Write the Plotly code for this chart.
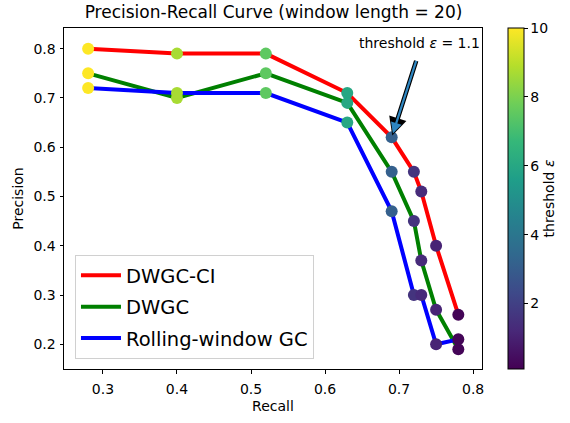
import plotly.graph_objects as go

# ---- data ----
recall = [0.28, 0.40, 0.52, 0.63, 0.69, 0.72, 0.73, 0.75, 0.78]
prec_dwgc_ci = [0.80, 0.79, 0.79, 0.71, 0.62, 0.55, 0.51, 0.40, 0.26]
prec_dwgc = [0.75, 0.70, 0.75, 0.69, 0.55, 0.45, 0.37, 0.27, 0.19]
prec_rolling = [0.72, 0.71, 0.71, 0.65, 0.47, 0.30, 0.30, 0.20, 0.21]
thresholds = [10.0, 8.7, 7.5, 6.0, 3.1, 1.6, 1.3, 1.1, 0.2]

series_names = ["DWGC-CI", "DWGC", "Rolling-window GC"]
series_colors = ["#ff0000", "#008000", "#0000ff"]
series_prec = [prec_dwgc_ci, prec_dwgc, prec_rolling]

FONT = "DejaVu Sans"

fig = go.Figure()
for i, (name, col, prec) in enumerate(zip(series_names, series_colors, series_prec)):
    fig.add_trace(go.Scatter(
        x=recall, y=prec, mode="lines", name=name,
        line=dict(color=col, width=4), legendgroup=f"g{i}",
    ))

all_x = recall * 3
all_y = prec_dwgc_ci + prec_dwgc + prec_rolling
all_c = thresholds * 3
fig.add_trace(go.Scatter(
    x=all_x, y=all_y, mode="markers", showlegend=False,
    marker=dict(
        size=12, color=all_c, colorscale="Viridis", cmin=0.1, cmax=10,
        line=dict(width=0),
        colorbar=dict(
            x=(509 - 64) / 419, xanchor="left", xpad=0,
            y=0.5, yanchor="middle", ypad=0, len=1, lenmode="fraction",
            thickness=16, outlinewidth=1, outlinecolor="black",
            tickvals=[2, 4, 6, 8, 10], ticks="outside", ticklen=3.5,
            tickcolor="black", tickfont=dict(family=FONT, size=14, color="black"),
            title=dict(text="threshold <i>ε</i>", side="right",
                       font=dict(family=FONT, size=14, color="black")),
        ),
    ),
))

# annotation arrow (black outline + blue fill)
fig.add_annotation(x=0.69, y=0.62, ax=25, ay=-78, text="", showarrow=True,
                   arrowhead=2, arrowwidth=4.5, arrowsize=0.8, arrowcolor="black", standoff=2)
fig.add_annotation(x=0.69, y=0.62, ax=25, ay=-78, text="", showarrow=True,
                   arrowhead=2, arrowwidth=2.2, arrowsize=1.0, arrowcolor="#2e86c1", standoff=4)
fig.add_annotation(x=(420 - 64) / 419, y=(373 - 43) / 345, xref="paper", yref="paper",
                   xanchor="center", yanchor="middle",
                   text="threshold <i>ε</i> = 1.1",
                   showarrow=False, font=dict(family=FONT, size=14, color="black"))

axis_common = dict(
    showline=True, mirror=True, linecolor="black", linewidth=1,
    ticks="outside", ticklen=3.5, tickcolor="black", tickwidth=1,
    showgrid=False, zeroline=False,
    tickfont=dict(family=FONT, size=14, color="black"),
)

fig.update_layout(
    width=570, height=423,
    margin=dict(l=64, r=87, t=28, b=50),
    paper_bgcolor="white", plot_bgcolor="white",
    font=dict(family=FONT, size=14, color="black"),
    title=dict(text="Precision-Recall Curve (window length = 20)",
               x=(64 + 483) / 2 / 570, xanchor="center", y=1 - 12 / 423, yanchor="middle",
               font=dict(family=FONT, size=17, color="black")),
    xaxis=dict(range=[0.2474, 0.812], tickvals=[0.3, 0.4, 0.5, 0.6, 0.7, 0.8],
               ticktext=["0.3", "0.4", "0.5", "0.6", "0.7", "0.8"],
               ticklabelstandoff=4,
               title=dict(text="Recall", font=dict(family=FONT, size=14), standoff=4),
               **axis_common),
    yaxis=dict(range=[0.1498, 0.842], tickvals=[0.2, 0.3, 0.4, 0.5, 0.6, 0.7, 0.8],
               ticktext=["0.2", "0.3", "0.4", "0.5", "0.6", "0.7", "0.8"],
               ticklabelstandoff=1,
               title=dict(text="Precision", font=dict(family=FONT, size=14), standoff=6),
               **axis_common),
    legend=dict(x=(75 - 64) / 419, y=(373 - 363) / 345, xanchor="left", yanchor="bottom",
                bgcolor="white", bordercolor="#d0d0d0", borderwidth=1,
                font=dict(family=FONT, size=19.5, color="black"),
                tracegroupgap=3, itemwidth=40),
    showlegend=True,
)

fig.write_html("out.html")
